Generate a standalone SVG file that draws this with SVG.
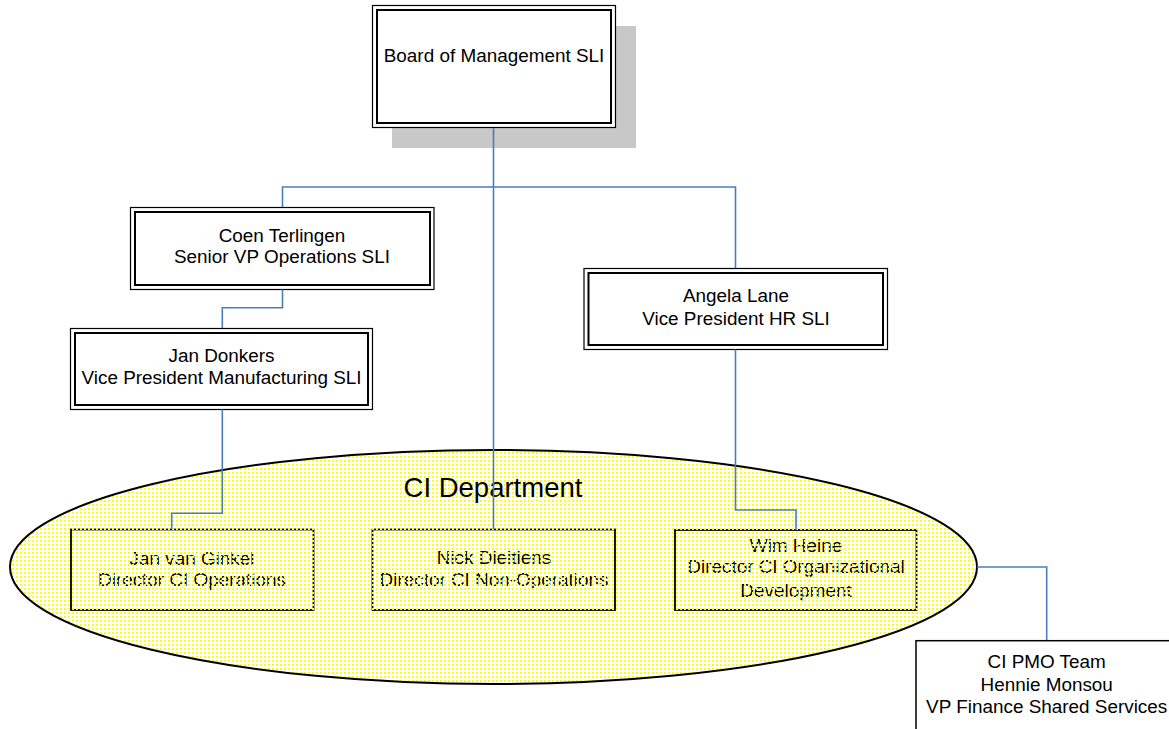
<svg xmlns="http://www.w3.org/2000/svg" width="1169" height="729" viewBox="0 0 1169 729">
<style>
text{font-family:"Liberation Sans",Arial,sans-serif;font-size:18.9px;fill:#000;text-anchor:middle}
.o{fill:none;stroke:#000;stroke-width:1.2}
.i{fill:none;stroke:#000;stroke-width:2}
.bg{fill:#fff}
.ib{fill:none;stroke:#000;stroke-width:1.8}
.c{fill:none;stroke:#4a7ebb;stroke-width:1.6}
</style>
<defs>
<pattern id="dots" x="0" y="0" width="4" height="4" patternUnits="userSpaceOnUse">
<rect x="0" y="0" width="2" height="2" fill="#ffff00" shape-rendering="crispEdges"/>
</pattern>
<clipPath id="ec"><ellipse cx="493.5" cy="567" rx="483.5" ry="117"/></clipPath>
</defs>
<rect width="1169" height="729" fill="#fff"/>

<g id="board">
<rect x="392" y="26" width="244" height="122" fill="#c8c8c8"/>
<rect class="bg" x="372.5" y="5.5" width="243" height="122"/>
<rect class="o" x="372.5" y="5.5" width="243" height="122"/>
<rect class="i" x="377" y="10" width="234" height="113"/>
<text x="494" y="61.7">Board of Management SLI</text>
</g>

<g id="coen">
<rect class="bg" x="130.5" y="207.5" width="303.5" height="82"/>
<rect class="o" x="130.5" y="207.5" width="303.5" height="82"/>
<rect class="i" x="135" y="212" width="295" height="73"/>
<text x="282" y="242.3">Coen Terlingen</text>
<text x="282" y="263.3">Senior VP Operations SLI</text>
</g>

<g id="jan-donkers">
<rect class="bg" x="70.5" y="328.5" width="302" height="81"/>
<rect class="o" x="70.5" y="328.5" width="302" height="81"/>
<rect class="i" x="75" y="333" width="293" height="72"/>
<text x="221.5" y="362.3">Jan Donkers</text>
<text x="221.5" y="384.3">Vice President Manufacturing SLI</text>
</g>

<g id="angela">
<rect class="bg" x="584" y="268.5" width="303.5" height="81"/>
<rect class="o" x="584" y="268.5" width="303.5" height="81"/>
<rect class="i" x="588.5" y="273" width="294.5" height="72"/>
<text x="736" y="302.3">Angela Lane</text>
<text x="736" y="325">Vice President HR SLI</text>
</g>

<g id="ci-department-bg">
<ellipse cx="493.5" cy="567" rx="483.5" ry="117" fill="#fff"/>
</g>

<g id="jan-van-ginkel">
<rect class="ib" x="71" y="529.5" width="242.5" height="80.5"/>
<text x="192" y="565">Jan van Ginkel</text>
<text x="192" y="586">Director CI Operations</text>
</g>

<g id="nick">
<rect class="ib" x="372.5" y="529.5" width="242.5" height="80.5"/>
<text x="494" y="564">Nick Dieltiens</text>
<text x="494" y="585.7">Director CI Non-Operations</text>
</g>

<g id="wim">
<rect class="ib" x="675" y="530" width="241.5" height="80"/>
<text x="796" y="551.7">Wim Heine</text>
<text x="796" y="573.3">Director CI Organizational</text>
<text x="796" y="596.7">Development</text>
</g>

<g id="ci-department">
<rect x="0" y="440" width="990" height="250" fill="url(#dots)" clip-path="url(#ec)"/>
<ellipse cx="493.5" cy="567" rx="483.5" ry="117" fill="none" stroke="#000" stroke-width="2"/>
<text x="493" y="497.3" style="font-size:27.5px">CI Department</text>
</g>

<g id="ci-pmo">
<rect x="916" y="640.7" width="270" height="100" fill="#fff" stroke="#000" stroke-width="1.5"/>
<text x="1046.7" y="668.3">CI PMO Team</text>
<text x="1046.7" y="690.7">Hennie Monsou</text>
<text x="1046.7" y="713.3">VP Finance Shared Services</text>
</g>

<g id="connectors">
<path class="c" d="M493.5 128V187"/>
<path class="c" d="M282.5 207V187H735.5V268"/>
<path class="c" d="M493.5 187V529"/>
<path class="c" d="M282.5 289.5V307.7H222.3V328"/>
<path class="c" d="M222.3 409.5V513.3H171.7V529"/>
<path class="c" d="M735.5 349.5V510H796V530"/>
<path class="c" d="M977 567H1046.7V640"/>
</g>
</svg>
